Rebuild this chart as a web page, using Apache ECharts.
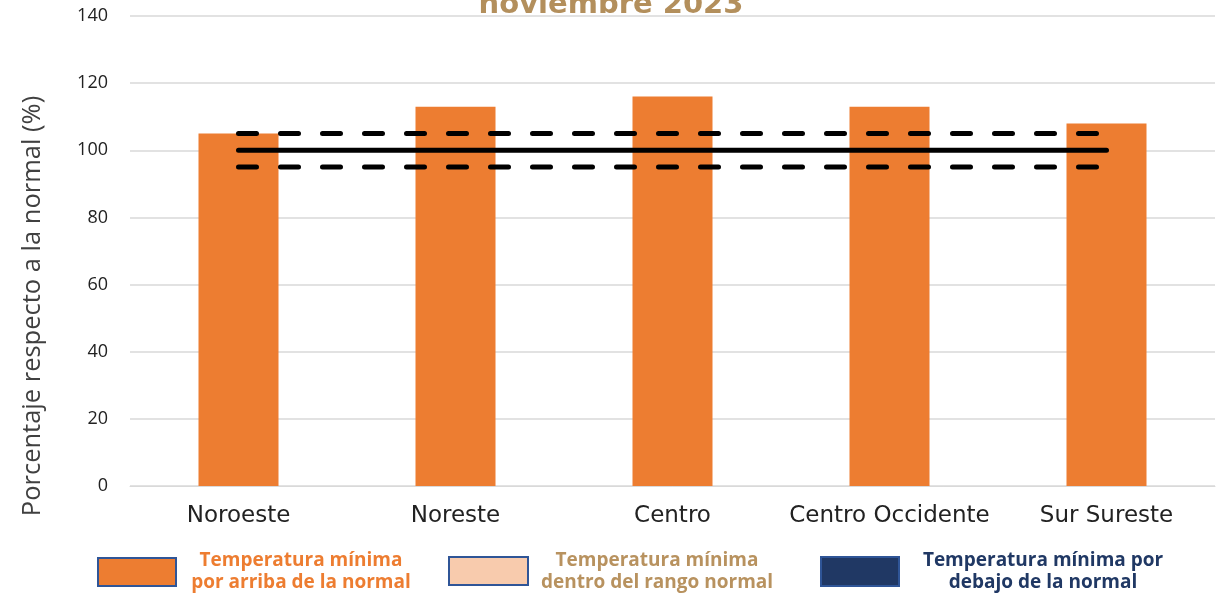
<!DOCTYPE html>
<html><head><meta charset="utf-8">
<script src="https://cdn.jsdelivr.net/npm/echarts@6/dist/echarts.min.js"></script>
<style>html,body{margin:0;padding:0;background:#fff}#c{width:1222px;height:595px}</style>
</head><body><div id="c"></div>
<script>
const categories = ["Noroeste", "Noreste", "Centro", "Centro Occidente", "Sur Sureste"];
const values = [105, 113, 116, 113, 108];
const normalLine = [100, 100, 100, 100, 100];
const upperLine = [105, 105, 105, 105, 105];
const lowerLine = [95, 95, 95, 95, 95];
const yTicks = { min: 0, max: 140, interval: 20 };
const yTitle = 'Porcentaje respecto a la normal (%)';
const legendItems = [
  { text: "Temperatura mínima\npor arriba de la normal", fill: "#ED7D31", color: "#ED7D31" },
  { text: "Temperatura mínima\ndentro del rango normal", fill: "#F8CBAD", color: "#B8925F" },
  { text: "Temperatura mínima por\ndebajo de la normal", fill: "#203864", color: "#203864" }
];

const chart = echarts.init(document.getElementById('c'), null, { renderer: 'canvas' });
const lineBase = { type: 'line', symbol: 'none', silent: true, z: 5 };
const legendPos = [
  { rx: 97, ry: 557, rw: 78, rh: 28, tx: 301 },
  { rx: 448, ry: 556, rw: 79, rh: 28, tx: 657 },
  { rx: 820, ry: 556, rw: 78, rh: 29, tx: 1043 }
];
const graphics = [];
legendItems.forEach((it, i) => {
  const p = legendPos[i];
  graphics.push({ type: 'rect', left: p.rx, top: p.ry, shape: { width: p.rw, height: p.rh },
    style: { fill: it.fill, stroke: '#2F5597', lineWidth: 2 } });
  graphics.push({ type: 'text', x: p.tx, y: 572, style: { text: it.text, fill: it.color,
    font: 'bold 19px "Open Sans", sans-serif', align: 'center', verticalAlign: 'middle', lineHeight: 22 } });
});
graphics.push({ type: 'text', x: 33, y: 306, rotation: Math.PI / 2,
  style: { text: yTitle, fill: '#404040', font: '25.5px "Open Sans", sans-serif', align: 'center', verticalAlign: 'middle' } });

chart.setOption({
  animation: false,
  title: { text: 'noviembre 2023', left: 'center', top: -14,
    textStyle: { color: '#B38F5C', fontSize: 29, fontWeight: 'bold', fontFamily: '"DejaVu Sans", sans-serif' } },
  grid: { left: 130, right: 7, top: 16, bottom: 109 },
  xAxis: { type: 'category', data: categories,
    axisLine: { lineStyle: { color: '#D9D9D9', width: 1 } }, axisTick: { show: false },
    axisLabel: { interval: 0, color: '#222', fontSize: 23, margin: 19, fontFamily: '"DejaVu Sans", sans-serif' } },
  yAxis: { type: 'value', min: yTicks.min, max: yTicks.max, interval: yTicks.interval,
    axisLabel: { color: '#222', fontSize: 18, margin: 22, fontFamily: '"Open Sans", sans-serif' },
    splitLine: { lineStyle: { color: '#D9D9D9', width: 1.5 } }, axisLine: { show: false }, axisTick: { show: false } },
  series: [
    { type: 'bar', data: values, barWidth: 80, itemStyle: { color: '#ED7D31' }, z: 2 },
    Object.assign({}, lineBase, { data: normalLine, lineStyle: { color: '#000', width: 5, cap: 'round' } }),
    Object.assign({}, lineBase, { data: upperLine, lineStyle: { color: '#000', width: 5, type: [18, 24], cap: 'round' } }),
    Object.assign({}, lineBase, { data: lowerLine, lineStyle: { color: '#000', width: 5, type: [18, 24], cap: 'round' } })
  ],
  graphic: graphics
});
</script></body></html>
